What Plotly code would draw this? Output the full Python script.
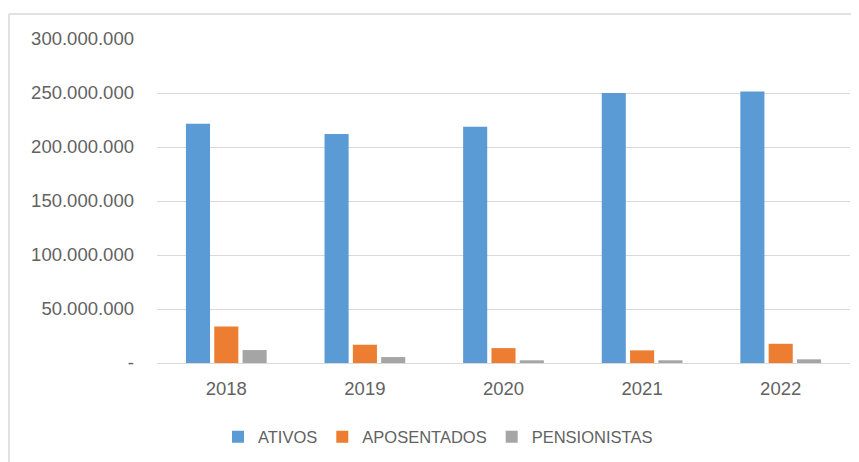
import plotly.graph_objects as go

years = ["2018", "2019", "2020", "2021", "2022"]
ativos = [221500000, 212000000, 218800000, 250000000, 251500000]
aposentados = [33800000, 16900000, 13800000, 11700000, 17800000]
pensionistas = [12000000, 5500000, 2500000, 2500000, 3400000]

tick_vals = [0, 50000000, 100000000, 150000000, 200000000, 250000000, 300000000]
tick_text = ["-", "50.000.000", "100.000.000", "150.000.000", "200.000.000", "250.000.000", "300.000.000"]

series = [
    ("ATIVOS", ativos, "#5B9BD5"),
    ("APOSENTADOS", aposentados, "#ED7D31"),
    ("PENSIONISTAS", pensionistas, "#A5A5A5"),
]

fig = go.Figure()
for name, vals, col in series:
    fig.add_trace(go.Bar(x=years, y=vals, name=name, marker=dict(color=col, line=dict(width=0))))

# page body has an 8px margin; work in screen coordinates and convert
OFF = 8
W, H = 859 - OFF, 462 - OFF
L, T = 157 - OFF, 39 - OFF
R = W - (850 - OFF)
B = H - (364 - OFF)
pw, ph = W - L - R, H - T - B

def px_x(p):
    return (p - OFF - L) / pw

def px_y(p):
    return (H - B - (p - OFF)) / ph

txt = "#626262"

fig.update_layout(
    width=W, height=H,
    margin=dict(l=L, r=R, t=T, b=B),
    paper_bgcolor="white", plot_bgcolor="white",
    barmode="group", bargap=0.387, bargroupgap=0.15,
    font=dict(family="Liberation Sans, Arial, sans-serif", color=txt, size=18),
    showlegend=True,
    legend=dict(orientation="h", x=px_x(218), xanchor="left", y=px_y(437), yanchor="middle",
                font=dict(size=16.5, color=txt), traceorder="normal",
                itemwidth=30, bgcolor="rgba(0,0,0,0)"),
    xaxis=dict(showgrid=False, showline=False, ticks="", ticklabelstandoff=12,
               tickfont=dict(size=18.5, color=txt)),
    yaxis=dict(range=[0, 300000000], tickvals=tick_vals, ticktext=tick_text,
               showgrid=True, gridcolor="#d9d9d9", gridwidth=1, zeroline=True,
               zerolinecolor="#d9d9d9", zerolinewidth=1, showline=False, ticks="",
               ticklabelstandoff=22, tickfont=dict(size=18.5, color=txt)),
    shapes=[
        dict(type="line", xref="paper", yref="paper", x0=px_x(9), x1=px_x(9), y0=px_y(14), y1=px_y(470),
             line=dict(color="#d9d9d9", width=1.5)),
        dict(type="line", xref="paper", yref="paper", x0=px_x(9), x1=px_x(870), y0=px_y(14), y1=px_y(14),
             line=dict(color="#d9d9d9", width=1.5)),
    ],
)

fig.write_html("out.html")
